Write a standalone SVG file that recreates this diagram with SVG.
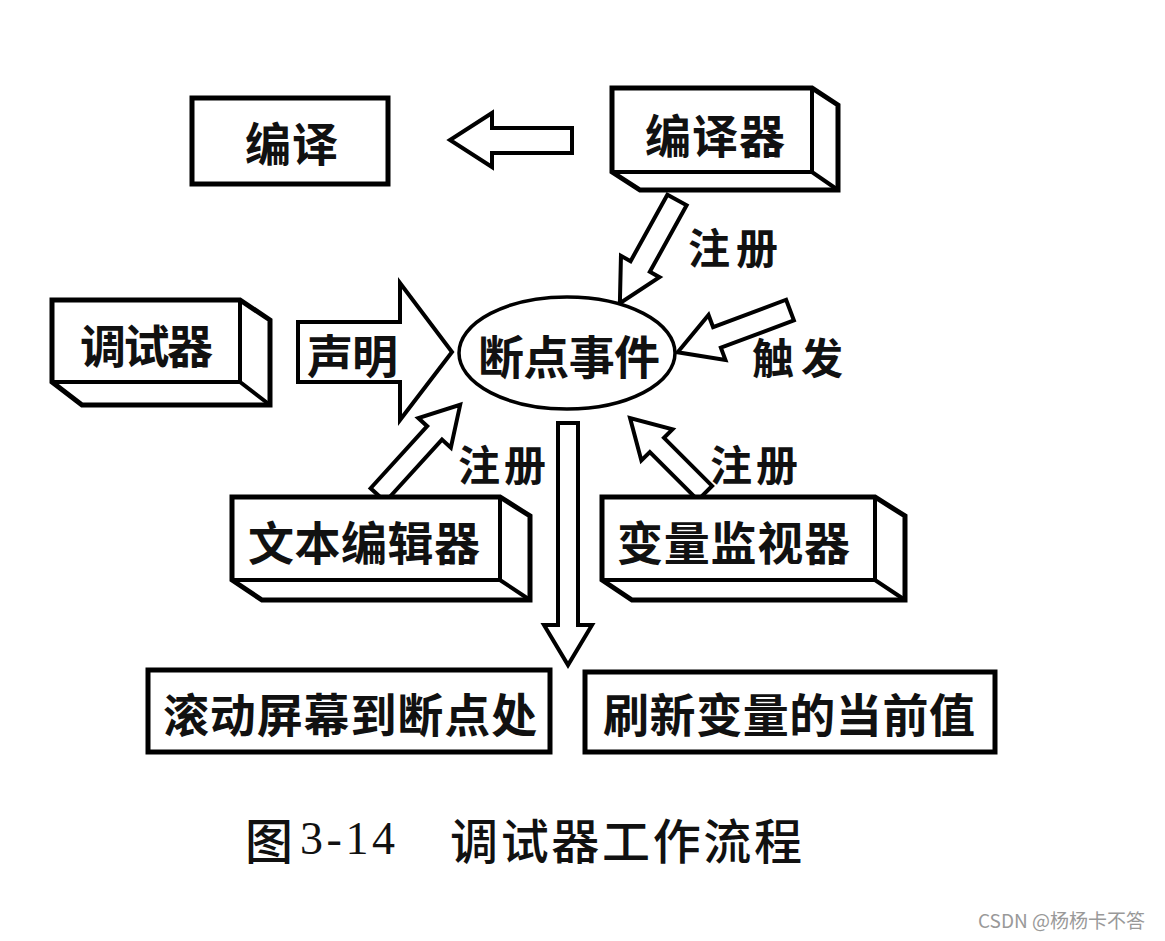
<svg xmlns="http://www.w3.org/2000/svg" width="1165" height="941" viewBox="0 0 1165 941">
<style>
.box{fill:#fff;stroke:#000;stroke-width:5;stroke-linejoin:miter}
.edge{fill:none;stroke:#000;stroke-width:4}
.arr{fill:#fff;stroke:#000;stroke-width:4;stroke-linejoin:miter}
.t{font-family:"Noto Sans CJK SC","Noto Sans",sans-serif;font-weight:700;font-size:46px;fill:#111;dominant-baseline:central}
.lbl{font-family:"Noto Sans CJK SC","Noto Sans",sans-serif;font-weight:700;font-size:42px;fill:#111;dominant-baseline:central}
.cap{font-family:"Noto Sans CJK SC",sans-serif;font-weight:500;font-size:48px;fill:#111;dominant-baseline:central}
.capn{font-family:"Liberation Serif","DejaVu Serif",serif;font-weight:400;font-size:46px;fill:#111}
.wm{font-family:"Noto Sans CJK SC","Liberation Sans",sans-serif;font-size:19px;fill:#999}
</style>
<rect width="1165" height="941" fill="#fff"/>

<g id="connectors">
  <path id="arrow-compile" class="arr" d="M572,128 L492,128 L492,113 L450,140 L492,167 L492,153 L572,153 Z"/>
  <path id="arrow-declare" class="arr" d="M298,322 L400,322 L400,283 L452,352 L400,420 L400,382 L298,382 Z"/>
  <path id="arrow-reg-compiler" class="arr" transform="translate(677,200) rotate(118.95)" d="M0,-11 L76,-11 L76,-22 L118,0 L76,22 L76,11 L0,11 Z"/>
  <path id="arrow-trigger" class="arr" transform="translate(790,310) rotate(159.4)" d="M0,-11 L78,-11 L78,-24 L120,0 L78,24 L78,11 L0,11 Z"/>
  <path id="arrow-reg-editor" class="arr" transform="translate(378,495) rotate(-47.66)" d="M0,-10 L84,-10 L84,-22 L122,0 L84,22 L84,10 L0,10 Z"/>
  <path id="arrow-reg-watch" class="arr" transform="translate(705,493) rotate(-135)" d="M0,-10 L68,-10 L68,-22 L106,0 L68,22 L68,10 L0,10 Z"/>
  <path id="arrow-down" class="arr" d="M558,423 L578,423 L578,625 L592,625 L568,665 L544,625 L558,625 Z"/>
  <text class="lbl" x="688" y="245" textLength="90">注册</text>
  <text class="lbl" x="752" y="355" textLength="91">触发</text>
  <text class="lbl" x="458" y="462" textLength="88">注册</text>
  <text class="lbl" x="710" y="462" textLength="88">注册</text>
  <text class="t" x="307" y="353" textLength="91">声明</text>
</g>

<g id="node-compile">
  <rect class="box" x="192" y="98" width="196" height="86"/>
  <text class="t" x="245" y="141" textLength="93">编译</text>
</g>

<g id="node-compiler">
  <path class="box" d="M612,88 L812,88 L838,105 L838,190 L640,190 L612,172 Z"/>
  <path class="edge" d="M812,88 L812,172 M612,172 L812,172 L838,190"/>
  <text class="t" x="645" y="133" textLength="140">编译器</text>
</g>

<g id="node-debugger">
  <path class="box" d="M52,300 L240,300 L270,320 L270,405 L82,405 L52,382 Z"/>
  <path class="edge" d="M240,300 L240,382 M52,382 L240,382 L270,405"/>
  <text class="t" x="80" y="343" textLength="133">调试器</text>
</g>

<g id="node-event">
  <ellipse cx="567" cy="353" rx="108" ry="56" fill="#fff" stroke="#000" stroke-width="3.5"/>
  <text class="t" x="478" y="354" textLength="182">断点事件</text>
</g>

<g id="node-editor">
  <path class="box" d="M232,497 L500,497 L530,516 L530,600 L262,600 L232,580 Z"/>
  <path class="edge" d="M500,497 L500,580 M232,580 L500,580 L530,600"/>
  <text class="t" x="248" y="540" textLength="232">文本编辑器</text>
</g>

<g id="node-watch">
  <path class="box" d="M602,497 L875,497 L905,516 L905,600 L632,600 L602,580 Z"/>
  <path class="edge" d="M875,497 L875,580 M602,580 L875,580 L905,600"/>
  <text class="t" x="617" y="540" textLength="233">变量监视器</text>
</g>

<g id="node-scroll">
  <rect class="box" x="148" y="670" width="402" height="82"/>
  <text class="t" x="163" y="712" textLength="374">滚动屏幕到断点处</text>
</g>

<g id="node-refresh">
  <rect class="box" x="585" y="672" width="410" height="80"/>
  <text class="t" x="603" y="712" textLength="372">刷新变量的当前值</text>
</g>

<g id="caption">
  <text class="cap" x="245" y="838" textLength="46">图</text>
  <text class="capn" x="300" y="854" textLength="95">3-14</text>
  <text class="cap" x="450" y="838" textLength="352">调试器工作流程</text>
</g>

<text class="wm" x="978" y="928">CSDN @杨杨卡不答</text>
</svg>
